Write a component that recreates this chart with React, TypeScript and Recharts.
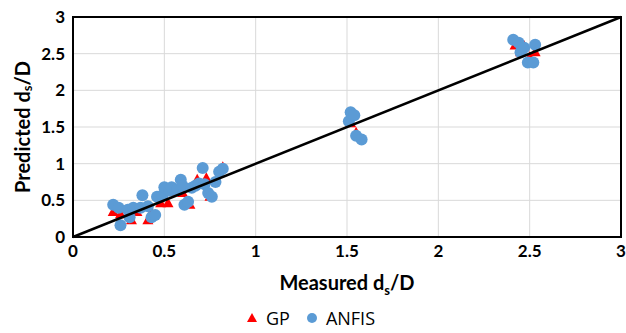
import React from "react";
import {
  ScatterChart,
  Scatter,
  XAxis,
  YAxis,
  CartesianGrid,
  Legend,
  ReferenceArea,
} from "recharts";

const axisTicks = [0, 0.5, 1, 1.5, 2, 2.5, 3];

const anfisX = [0.22, 0.25, 0.26, 0.3, 0.33, 0.31, 0.37, 0.38, 0.41, 0.43, 0.45, 0.46, 0.49, 0.5, 0.53, 0.54, 0.57, 0.59, 0.6, 0.61, 0.63, 0.65, 0.67, 0.69, 0.71, 0.72, 0.74, 0.76, 0.78, 0.8, 0.82, 1.51, 1.52, 1.54, 1.55, 1.58, 2.41, 2.44, 2.45, 2.47, 2.49, 2.52, 2.53];
const anfisY = [0.44, 0.4, 0.16, 0.37, 0.4, 0.27, 0.4, 0.57, 0.42, 0.27, 0.3, 0.55, 0.57, 0.68, 0.63, 0.68, 0.64, 0.78, 0.7, 0.44, 0.48, 0.67, 0.7, 0.73, 0.94, 0.72, 0.6, 0.55, 0.75, 0.89, 0.93, 1.58, 1.7, 1.66, 1.38, 1.33, 2.69, 2.65, 2.52, 2.58, 2.38, 2.38, 2.62];

const gpX = [0.22, 0.26, 0.32, 0.35, 0.41, 0.43, 0.48, 0.52, 0.54, 0.6, 0.64, 0.68, 0.73, 0.75, 0.82, 1.52, 1.52, 1.55, 2.42, 2.45, 2.47, 2.5, 2.53];
const gpY = [0.34, 0.31, 0.23, 0.34, 0.23, 0.33, 0.46, 0.46, 0.62, 0.6, 0.44, 0.78, 0.8, 0.55, 0.95, 1.55, 1.65, 1.42, 2.61, 2.52, 2.6, 2.45, 2.52];

const identityX = [0, 3];

const anfisData = anfisX.map((x, i) => ({ x, y: anfisY[i] }));
const gpData = gpX.map((x, i) => ({ x, y: gpY[i] }));
const lineData = identityX.map((x) => ({ x, y: x }));

const FONT = "Lato, 'Open Sans', sans-serif";
const BLUE = "#5B9BD5";
const RED = "#FF0000";

const Circle = (p: any) => <circle cx={p.cx} cy={p.cy} r={6} fill={BLUE} />;
const Tri = (p: any) => (
  <path
    d={`M${p.cx},${p.cy - 6} L${p.cx + 5.5},${p.cy + 4} L${p.cx - 5.5},${p.cy + 4} Z`}
    fill={RED}
  />
);

const YLabel = (props: any) => {
  const vb = props.viewBox;
  const cx = 22;
  const cy = vb.y + vb.height / 2;
  return (
    <text
      x={cx}
      y={cy}
      transform={`rotate(-90, ${cx}, ${cy})`}
      textAnchor="middle"
      dominantBaseline="central"
      fontFamily={FONT}
      fontWeight="bold"
      fontSize={20}
      fill="#000"
    >
      Predicted d<tspan fontSize={13} dy={5}>s</tspan>
      <tspan dy={-5}>/D</tspan>
    </text>
  );
};

const XLabel = (props: any) => {
  const vb = props.viewBox;
  const cx = vb.x + vb.width / 2;
  return (
    <text
      x={cx}
      y={290}
      textAnchor="middle"
      fontFamily={FONT}
      fontWeight="bold"
      fontSize={20}
      fill="#000"
    >
      Measured d<tspan fontSize={13} dy={5}>s</tspan>
      <tspan dy={-5}>/D</tspan>
    </text>
  );
};

const LegendContent = () => (
  <div
    style={{
      display: "flex",
      justifyContent: "center",
      alignItems: "center",
      fontFamily: "'Open Sans', sans-serif",
      fontSize: 18,
      color: "#000",
      height: 36,
      paddingTop: 6,
      boxSizing: "border-box",
    }}
  >
    <svg width={12} height={12} style={{ marginRight: 8 }}>
      <path d="M6,1 L11,10 L1,10 Z" fill={RED} />
    </svg>
    <span style={{ marginRight: 16 }}>GP</span>
    <svg width={12} height={12} style={{ marginRight: 8 }}>
      <circle cx={6} cy={6} r={5} fill={BLUE} />
    </svg>
    <span>ANFIS</span>
  </div>
);

export default function App() {
  return (
    <div style={{ position: "absolute", left: 0, top: 0, background: "#fff" }}>
      <ScatterChart
        width={626}
        height={333}
        margin={{ top: 17, right: 5, bottom: 0, left: 0 }}
      >
        <CartesianGrid stroke="#d9d9d9" strokeWidth={1} />
        <XAxis
          type="number"
          dataKey="x"
          domain={[0, 3]}
          ticks={axisTicks}
          height={60}
          tickLine={false}
          axisLine={{ stroke: "#000", strokeWidth: 2 }}
          tick={{ fontFamily: FONT, fontWeight: "bold", fontSize: 17, fill: "#000" }}
          label={<XLabel />}
        />
        <YAxis
          type="number"
          dataKey="y"
          domain={[0, 3]}
          ticks={axisTicks}
          width={73}
          tickLine={false}
          axisLine={{ stroke: "#000", strokeWidth: 2 }}
          tick={{ fontFamily: FONT, fontWeight: "bold", fontSize: 17, fill: "#000" }}
          label={<YLabel />}
        />
        <ReferenceArea
          x1={0}
          x2={3}
          y1={0}
          y2={3}
          fill="none"
          stroke="#000"
          strokeWidth={2}
          fillOpacity={0}
        />
        <Legend verticalAlign="bottom" height={36} content={<LegendContent />} />
        <Scatter name="GP" data={gpData} shape={<Tri />} isAnimationActive={false} />
        <Scatter name="ANFIS" data={anfisData} shape={<Circle />} isAnimationActive={false} />
        <Scatter
          name="line"
          data={lineData}
          line={{ stroke: "#000", strokeWidth: 2.5 }}
          shape={() => null}
          legendType="none"
          isAnimationActive={false}
        />
      </ScatterChart>
    </div>
  );
}
